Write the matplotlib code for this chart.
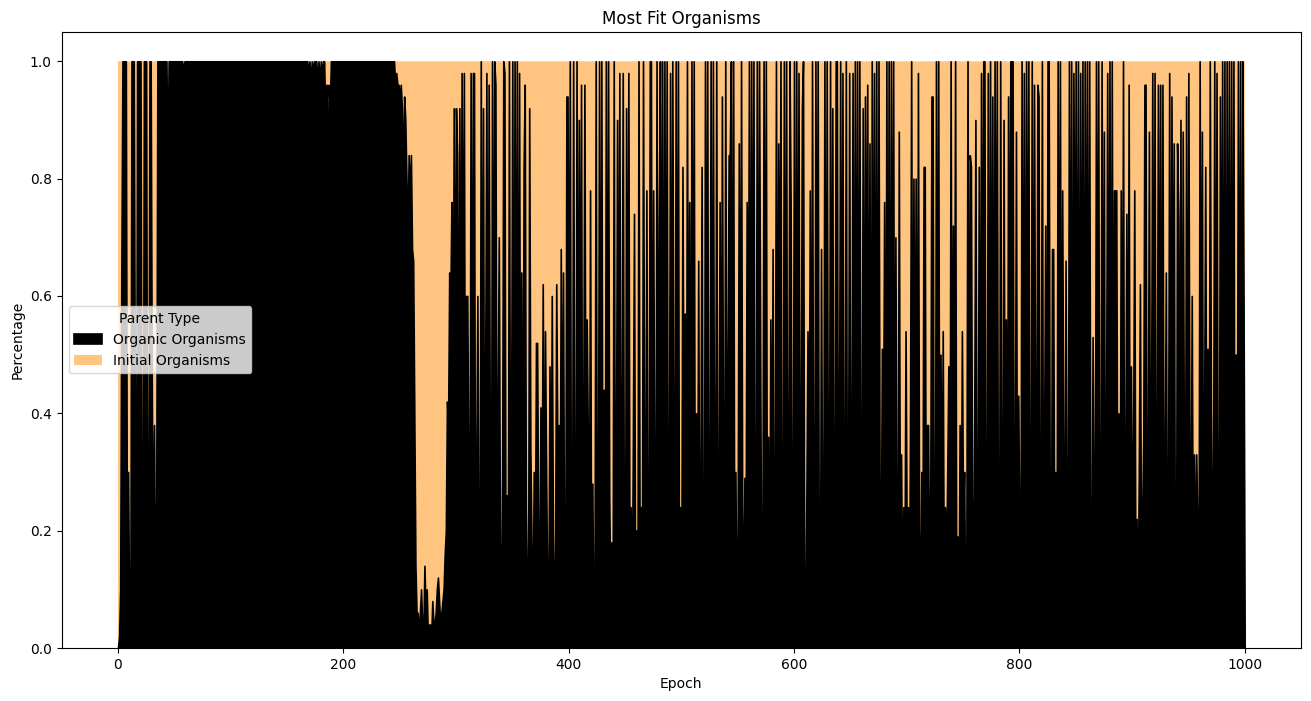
import numpy as np
import matplotlib
matplotlib.use("Agg")
import matplotlib.pyplot as plt

# share of the most fit organisms whose parent was organic, per epoch (percent)
organic_pct = [
    0, 2, 10, 64, 100, 100, 100, 100, 6, 30, 2, 4, 100, 100, 100, 40, 2, 100, 100, 100,
    100, 20, 4, 100, 100, 100, 6, 18, 100, 100, 46, 10, 38, 4, 26, 100, 100, 100, 100, 100,
    100, 100, 100, 100, 82, 100, 100, 100, 100, 100, 100, 100, 100, 100, 100, 100, 100, 100, 98, 100,
    100, 100, 100, 100, 100, 100, 100, 100, 100, 100, 100, 100, 100, 100, 100, 100, 100, 100, 100, 100,
    100, 100, 100, 100, 100, 100, 100, 100, 100, 100, 100, 100, 100, 100, 100, 100, 100, 100, 100, 100,
    100, 100, 100, 100, 100, 100, 100, 100, 100, 100, 100, 100, 100, 100, 100, 100, 100, 100, 100, 100,
    100, 100, 100, 100, 100, 100, 100, 100, 100, 100, 100, 100, 100, 100, 100, 100, 100, 100, 100, 100,
    100, 100, 100, 100, 100, 100, 100, 100, 100, 100, 100, 100, 100, 100, 100, 100, 100, 100, 100, 100,
    100, 100, 100, 100, 100, 100, 100, 100, 100, 98, 100, 96, 100, 98, 100, 100, 100, 96, 100, 96,
    100, 98, 100, 100, 90, 96, 78, 96, 92, 100, 100, 100, 100, 100, 100, 100, 100, 100, 100, 100,
    100, 100, 100, 100, 100, 100, 100, 100, 100, 100, 100, 100, 100, 100, 100, 100, 100, 100, 100, 100,
    100, 100, 100, 100, 100, 100, 100, 100, 100, 100, 100, 100, 100, 100, 100, 100, 100, 100, 100, 100,
    100, 100, 100, 100, 100, 100, 96, 98, 96, 96, 94, 96, 92, 78, 94, 90, 80, 70, 84, 76,
    84, 68, 66, 40, 14, 6, 6, 2, 6, 10, 4, 2, 14, 6, 10, 2, 4, 4, 2, 8,
    4, 4, 6, 10, 12, 8, 4, 6, 8, 10, 16, 20, 42, 38, 64, 60, 76, 30, 92, 36,
    92, 84, 22, 92, 40, 98, 42, 98, 20, 60, 60, 30, 10, 98, 20, 98, 98, 4, 30, 60,
    14, 6, 100, 20, 92, 8, 50, 98, 12, 96, 36, 4, 100, 22, 100, 96, 16, 40, 70, 18,
    2, 30, 100, 98, 8, 26, 4, 100, 14, 40, 100, 10, 100, 22, 100, 6, 98, 18, 64, 2,
    82, 96, 24, 10, 4, 92, 34, 18, 2, 30, 12, 52, 52, 18, 8, 41, 20, 62, 6, 54,
    30, 10, 4, 48, 16, 60, 20, 2, 18, 62, 32, 38, 12, 68, 20, 64, 10, 4, 94, 94,
    30, 100, 18, 6, 100, 24, 2, 100, 14, 90, 30, 96, 8, 40, 96, 22, 56, 36, 10, 78,
    6, 28, 2, 12, 100, 8, 20, 100, 4, 100, 16, 44, 2, 100, 10, 100, 26, 8, 18, 4,
    100, 12, 30, 90, 18, 98, 6, 40, 98, 14, 2, 92, 22, 98, 10, 24, 4, 36, 74, 8,
    20, 2, 100, 14, 24, 8, 100, 32, 12, 78, 4, 18, 100, 100, 10, 78, 28, 2, 100, 20,
    72, 100, 30, 100, 6, 100, 20, 100, 4, 26, 98, 12, 100, 36, 8, 100, 16, 100, 2, 24,
    10, 82, 30, 57, 6, 100, 18, 76, 4, 100, 22, 100, 8, 40, 14, 66, 2, 30, 82, 12,
    4, 100, 26, 100, 8, 20, 100, 2, 100, 29, 14, 100, 6, 22, 76, 10, 94, 34, 4, 100,
    18, 46, 84, 84, 100, 12, 100, 8, 30, 2, 20, 86, 16, 100, 24, 6, 29, 14, 76, 40,
    100, 8, 100, 32, 100, 6, 22, 100, 10, 100, 49, 4, 16, 100, 26, 100, 8, 36, 2, 56,
    18, 68, 4, 28, 100, 12, 86, 40, 100, 2, 20, 100, 14, 100, 6, 32, 100, 76, 10, 24,
    100, 4, 100, 18, 98, 8, 38, 92, 100, 12, 2, 26, 54, 16, 78, 4, 100, 22, 8, 100,
    34, 100, 10, 2, 68, 14, 20, 100, 6, 100, 30, 12, 100, 18, 92, 4, 28, 100, 100, 8,
    40, 100, 16, 98, 2, 30, 100, 12, 24, 98, 6, 36, 98, 10, 100, 20, 100, 4, 100, 28,
    14, 92, 8, 94, 40, 96, 18, 86, 2, 100, 26, 98, 10, 100, 4, 100, 22, 12, 51, 30,
    76, 6, 100, 16, 100, 2, 100, 34, 100, 8, 70, 20, 4, 88, 14, 33, 6, 24, 10, 54,
    18, 24, 2, 40, 100, 12, 80, 30, 80, 8, 98, 20, 4, 30, 16, 82, 82, 10, 38, 38,
    6, 28, 94, 94, 14, 2, 100, 20, 100, 8, 50, 18, 54, 4, 24, 12, 30, 48, 6, 100,
    16, 72, 34, 100, 8, 19, 2, 38, 14, 54, 22, 30, 4, 18, 100, 10, 84, 82, 26, 6,
    40, 90, 12, 20, 82, 4, 98, 30, 100, 100, 10, 16, 98, 2, 100, 22, 94, 8, 100, 36,
    100, 14, 4, 100, 28, 10, 90, 18, 56, 6, 94, 34, 100, 100, 100, 12, 24, 88, 4, 43,
    20, 8, 100, 16, 98, 2, 100, 30, 100, 10, 22, 100, 6, 96, 40, 18, 96, 94, 4, 26,
    100, 12, 36, 72, 2, 100, 100, 20, 8, 68, 68, 14, 30, 6, 100, 24, 100, 10, 78, 34,
    4, 66, 18, 12, 100, 28, 100, 6, 98, 40, 100, 14, 100, 2, 98, 22, 100, 8, 100, 36,
    100, 10, 100, 18, 4, 53, 26, 12, 100, 30, 100, 6, 20, 100, 14, 88, 2, 40, 98, 16,
    100, 8, 100, 24, 78, 78, 78, 12, 40, 4, 78, 20, 100, 6, 30, 74, 14, 96, 2, 48,
    18, 36, 78, 8, 22, 4, 30, 62, 12, 22, 36, 96, 96, 6, 28, 88, 10, 44, 98, 16,
    98, 4, 34, 96, 20, 96, 2, 96, 12, 30, 64, 8, 26, 98, 6, 94, 40, 86, 14, 2,
    86, 74, 22, 90, 8, 88, 34, 12, 94, 4, 98, 28, 18, 60, 6, 33, 12, 33, 20, 2,
    100, 24, 88, 10, 40, 82, 16, 51, 4, 100, 42, 18, 30, 100, 8, 98, 22, 2, 94, 36,
    100, 12, 100, 6, 100, 26, 100, 10, 100, 18, 100, 4, 50, 20, 100, 14, 100, 2, 100, 58,
    0,
]
epochs = list(range(len(organic_pct)))

series_labels = ["Organic Organisms", "Initial Organisms"]
series_colors = ["black", "#ffc580"]

organic = np.array(organic_pct) / 100.0
initial = 1.0 - organic  # the rest of the most fit organisms

fig = plt.figure(figsize=(13.11, 7.01), dpi=100)
ax = fig.add_axes([0.047, 0.0756, 0.9454, 0.8788])

polys = ax.stackplot(epochs, organic, initial, colors=series_colors, labels=series_labels)
polys[0].set_edgecolor("black")
polys[0].set_linewidth(1.2)
polys[0].set_zorder(3)
polys[1].set_linewidth(0)
polys[1].set_zorder(2)

ax.set_xlim(-50, 1050)
ax.set_ylim(0, 1.05)
ax.set_yticks([0.0, 0.2, 0.4, 0.6, 0.8, 1.0])
ax.set_title("Most Fit Organisms")
ax.set_xlabel("Epoch")
ax.set_ylabel("Percentage")
ax.legend(loc="center left", title="Parent Type")

fig.savefig("out.png", dpi=100)
